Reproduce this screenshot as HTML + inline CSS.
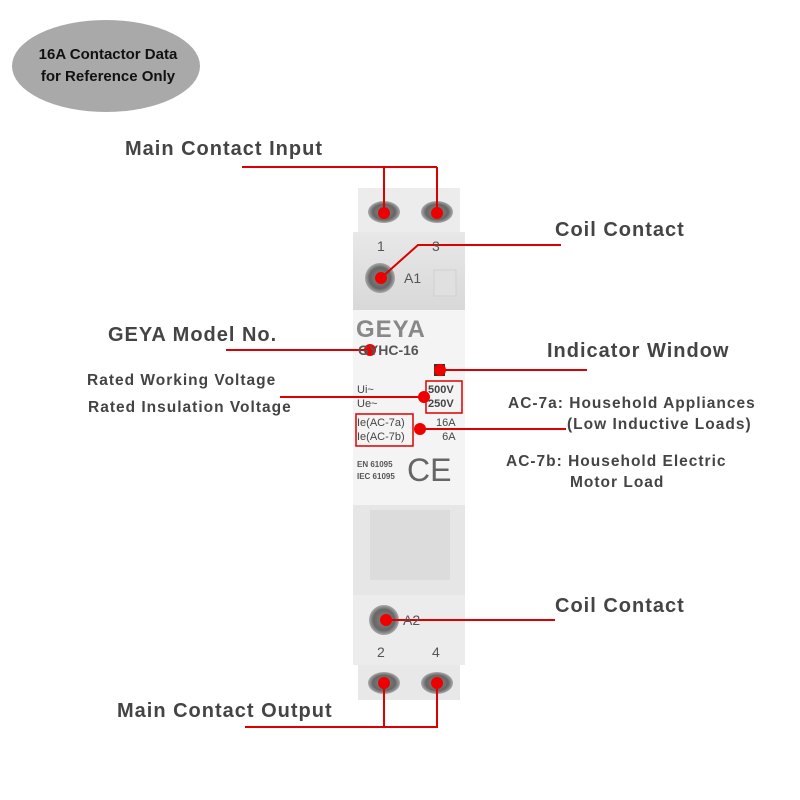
<!DOCTYPE html>
<html><head><meta charset="utf-8"><style>
html,body{margin:0;padding:0;background:#fff;}
#c{position:relative;width:800px;height:800px;overflow:hidden;font-family:"Liberation Sans",sans-serif;}
.t{position:absolute;font-weight:bold;color:#444;white-space:nowrap;}
.h{font-size:20px;letter-spacing:1px;}
.s{font-size:15.5px;letter-spacing:1px;}
.a{position:absolute;}
</style></head><body><div id="c">
<div class="a" style="left:12px;top:20px;width:188px;height:92px;border-radius:50%;background:#a9a9a9;"></div>
<div class="t" style="left:18px;top:44px;font-size:15px;color:#111;line-height:22px;width:180px;text-align:center;">16A Contactor Data<br>for Reference Only</div>

<svg class="a" style="left:0;top:0" width="800" height="800">
 <defs>
  <linearGradient id="g1" x1="0" x2="0" y1="0" y2="1"><stop offset="0" stop-color="#e8e8e8"/><stop offset="1" stop-color="#d8d8d8"/></linearGradient>
  <radialGradient id="sc"><stop offset="0" stop-color="#888"/><stop offset="0.7" stop-color="#666"/><stop offset="1" stop-color="#aaa"/></radialGradient>
 </defs>
 <rect x="358" y="188" width="102" height="48" fill="#ececec"/>
 <rect x="353" y="232" width="112" height="80" fill="url(#g1)"/>
 <rect x="353" y="310" width="112" height="200" fill="#f4f4f4"/>
 <rect x="353" y="505" width="112" height="95" fill="#e6e6e6"/>
 <rect x="370" y="510" width="80" height="70" fill="#dcdcdc"/>
 <rect x="353" y="595" width="112" height="70" fill="#ececec"/>
 <rect x="358" y="665" width="102" height="35" fill="#e8e8e8"/>
 <rect x="434" y="270" width="22" height="26" fill="#e0e0e0" stroke="#d0d0d0"/>
 <ellipse cx="384" cy="212" rx="16" ry="11" fill="url(#sc)"/>
 <ellipse cx="437" cy="212" rx="16" ry="11" fill="url(#sc)"/>
 <circle cx="380" cy="278" r="15" fill="url(#sc)"/>
 <circle cx="384" cy="620" r="15" fill="url(#sc)"/>
 <ellipse cx="384" cy="683" rx="16" ry="11" fill="url(#sc)"/>
 <ellipse cx="437" cy="683" rx="16" ry="11" fill="url(#sc)"/>
 <rect x="434" y="364" width="11" height="12" fill="#333"/>
 <rect x="426" y="381" width="36" height="32" fill="none" stroke="#d00" stroke-width="1.5"/>
 <rect x="356" y="414" width="57" height="32" fill="none" stroke="#d00" stroke-width="1.5"/>
 <g stroke="#d00" stroke-width="2" fill="none">
  <polyline points="242,167 437,167"/>
 <line x1="384" y1="167" x2="384" y2="213"/><line x1="437" y1="167" x2="437" y2="213"/>
  <polyline points="561,245 418,245 381,278"/>
  <line x1="226" y1="350" x2="370" y2="350"/>
  <line x1="280" y1="397" x2="425" y2="397"/>
  <line x1="440" y1="370" x2="587" y2="370"/>
  <line x1="420" y1="429" x2="566" y2="429"/>
  <line x1="384" y1="620" x2="555" y2="620"/>
  <polyline points="245,727 438,727"/>
  <line x1="384" y1="683" x2="384" y2="727"/><line x1="437" y1="683" x2="437" y2="727"/>
 </g>
 <g fill="#e00">
  <circle cx="384" cy="213" r="6"/><circle cx="437" cy="213" r="6"/>
  <circle cx="381" cy="278" r="6"/><circle cx="370" cy="350" r="6"/>
  <circle cx="440" cy="370" r="6"/><circle cx="424" cy="397" r="6"/>
  <circle cx="420" cy="429" r="6"/><circle cx="386" cy="620" r="6"/>
  <circle cx="384" cy="683" r="6"/><circle cx="437" cy="683" r="6"/>
 </g>
</svg>

<div class="t" style="left:377px;top:238px;font-size:14px;font-weight:normal;color:#555;">1</div>
<div class="t" style="left:432px;top:238px;font-size:14px;font-weight:normal;color:#555;">3</div>
<div class="t" style="left:404px;top:270px;font-size:14px;font-weight:normal;color:#555;">A1</div>
<div class="t" style="left:356px;top:316px;font-size:24px;color:#888;letter-spacing:1px;">GEYA</div>
<div class="t" style="left:358px;top:342px;font-size:14px;color:#555;">GYHC-16</div>
<div class="t" style="left:357px;top:383px;font-size:11px;font-weight:normal;color:#444;line-height:14px;">Ui~<br>Ue~</div>
<div class="t" style="left:428px;top:383px;font-size:11px;color:#444;line-height:14px;">500V<br>250V</div>
<div class="t" style="left:357px;top:416px;font-size:11px;font-weight:normal;color:#444;line-height:14px;">Ie(AC-7a)<br>Ie(AC-7b)</div>
<div class="t" style="left:436px;top:416px;font-size:11px;font-weight:normal;color:#444;line-height:14px;text-align:right;">16A<br>6A</div>
<div class="t" style="left:357px;top:459px;font-size:8px;color:#555;line-height:12px;">EN 61095<br>IEC 61095</div>
<div class="t" style="left:407px;top:452px;font-size:32px;font-weight:normal;color:#666;">CE</div>
<div class="t" style="left:403px;top:612px;font-size:14px;font-weight:normal;color:#555;">A2</div>
<div class="t" style="left:377px;top:644px;font-size:14px;font-weight:normal;color:#555;">2</div>
<div class="t" style="left:432px;top:644px;font-size:14px;font-weight:normal;color:#555;">4</div>

<div class="t h" style="left:125px;top:138px;">Main Contact Input</div>
<div class="t h" style="left:555px;top:219px;">Coil Contact</div>
<div class="t h" style="left:108px;top:324px;">GEYA Model No.</div>
<div class="t h" style="left:547px;top:340px;">Indicator Window</div>
<div class="t s" style="left:87px;top:372px;">Rated Working Voltage</div>
<div class="t s" style="left:88px;top:399px;">Rated Insulation Voltage</div>
<div class="t s" style="left:508px;top:395px;">AC-7a: Household Appliances</div>
<div class="t s" style="left:567px;top:416px;">(Low Inductive Loads)</div>
<div class="t s" style="left:506px;top:453px;">AC-7b: Household Electric</div>
<div class="t s" style="left:570px;top:474px;">Motor Load</div>
<div class="t h" style="left:555px;top:595px;">Coil Contact</div>
<div class="t h" style="left:117px;top:700px;">Main Contact Output</div>
</div></body></html>
